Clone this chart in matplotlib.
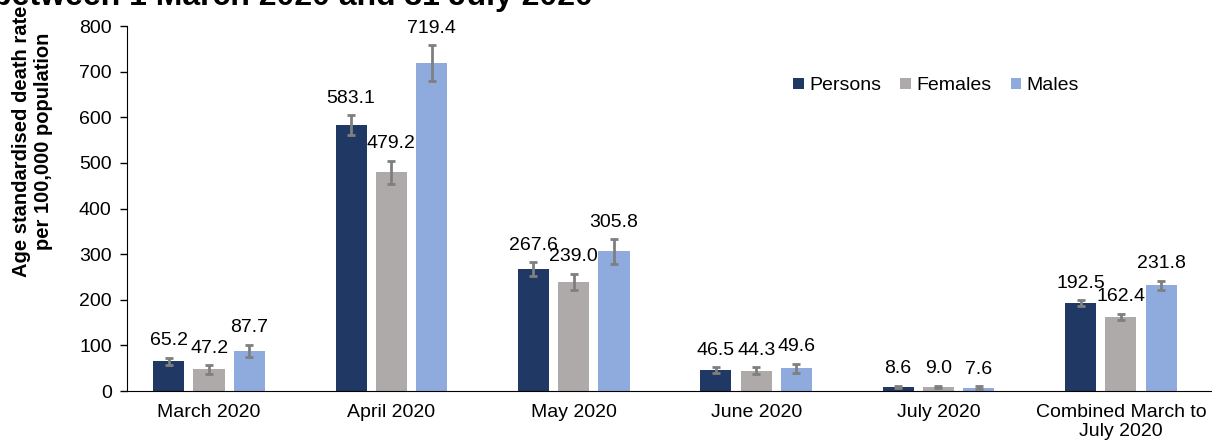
import numpy as np
import matplotlib
matplotlib.use("Agg")
import matplotlib.pyplot as plt

plt.rcParams['font.family'] = ['Liberation Sans', 'DejaVu Sans']

# data
categories = ["March 2020", "April 2020", "May 2020", "June 2020", "July 2020",
              "Combined March to\nJuly 2020"]
series = ["Persons", "Females", "Males"]
persons = [65.2, 583.1, 267.6, 46.5, 8.6, 192.5]
females = [47.2, 479.2, 239.0, 44.3, 9.0, 162.4]
males = [87.7, 719.4, 305.8, 49.6, 7.6, 231.8]
persons_err = [8, 22, 15, 6, 3, 6]
females_err = [9, 26, 18, 8, 3, 7]
males_err = [14, 39, 27, 10, 3, 10]

colors = ["#203864", "#AEAAAA", "#8FAADC"]
fs = 14

fig = plt.figure(figsize=(12.12, 4.46), dpi=100)
ax = fig.add_axes([0.1048, 0.1233, 0.8952, 0.8184])

x = np.arange(len(categories))
width = 0.171
step = 0.221
values = [persons, females, males]
errors = [persons_err, females_err, males_err]
for i, (vals, errs) in enumerate(zip(values, errors)):
    pos = x + (i - 1) * step
    ax.bar(pos, vals, width=width, color=colors[i], label=series[i], zorder=2)
    ax.errorbar(pos, vals, yerr=errs, fmt='none', ecolor='#7F7F7F',
                elinewidth=2, capsize=3, capthick=2, zorder=3)
    for p, v, e in zip(pos, vals, errs):
        ax.annotate(f"{v:.1f}", (p, v + e), xytext=(0, 6), textcoords='offset points',
                    ha='center', va='bottom', fontsize=fs)

ax.set_xlim(-0.45, 5.5)
ax.set_ylim(0, 800)
ax.set_yticks(range(0, 801, 100))
ax.set_xticks(x)
ax.set_xticklabels(categories, fontsize=fs)
ax.tick_params(axis='y', labelsize=fs, direction='out', length=5, width=1, pad=6)
ax.tick_params(axis='x', length=0, pad=9)
for s in ['top', 'right']:
    ax.spines[s].set_visible(False)
ax.spines['left'].set_color('#000000')
ax.spines['bottom'].set_color('#000000')

# y label sits higher than axis centre, as in the source
fig.text(33 / 1212, 1 - 141 / 446, "Age standardised death rate\nper 100,000 population",
         fontsize=14.5, fontweight='bold', rotation=90, ha='center', va='center',
         multialignment='center')

fig.text(-8 / 1212, 1 - 5 / 446, "between 1 March 2020 and 31 July 2020",
         fontsize=23, fontweight='bold', ha='left', va='baseline')

ax.legend(loc='center', bbox_to_anchor=(936 / 1212, 1 - 86 / 446),
          bbox_transform=fig.transFigure, ncol=3, frameon=False,
          fontsize=fs, handlelength=0.55, handleheight=0.55,
          handletextpad=0.25, columnspacing=1.0)

fig.savefig("out.png", dpi=100)
